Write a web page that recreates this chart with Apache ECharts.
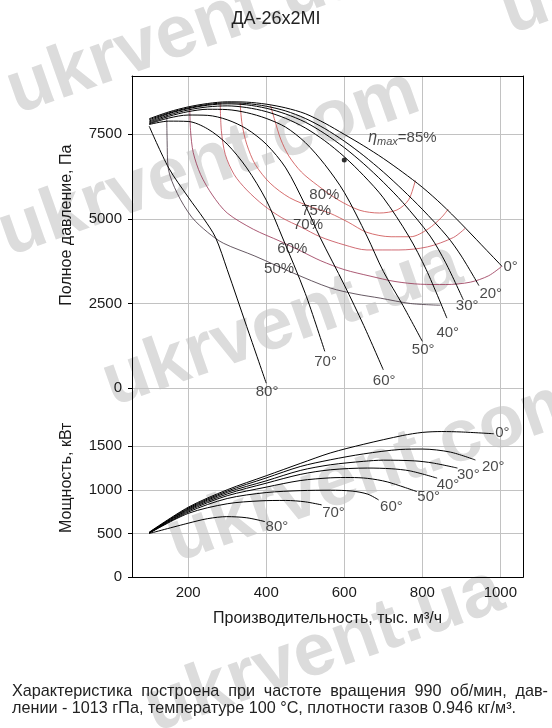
<!DOCTYPE html>
<html>
<head>
<meta charset="utf-8">
<script src="https://cdn.jsdelivr.net/npm/echarts@6/dist/echarts.min.js"></script>
<style>
  html, body { margin: 0; padding: 0; background: #fff; }
  #chart { width: 552px; height: 728px; }
</style>
</head>
<body>
<div id="chart"></div>
<script>
// --- data ---
const flowTicks = [200, 400, 600, 800, 1000];
const pressureTicks = [0, 2500, 5000, 7500];
const powerTicks = [0, 500, 1000, 1500];
const bladeAngles = ['0°', '20°', '30°', '40°', '50°', '60°', '70°', '80°'];

// full pressure, Pa, vs flow, thousand m3/h
const press0 = [[100,7950],[150,8150],[200,8300],[250,8400],[300,8450],[350,8440],[400,8380],[450,8270],[500,8100],[550,7820],[600,7490],[650,7150],[700,6780],[750,6370],[800,5930],[850,5420],[900,4850],[950,4250],[1004,3600]];
const press20 = [[100,7920],[150,8120],[200,8270],[250,8370],[300,8420],[350,8400],[400,8320],[450,8180],[500,7960],[550,7660],[600,7290],[650,6860],[700,6380],[750,5850],[800,5280],[863,4490],[900,3900],[945,3030]];
const press30 = [[100,7880],[150,8100],[200,8250],[250,8350],[300,8390],[350,8360],[400,8260],[450,8090],[500,7850],[550,7510],[600,7100],[650,6620],[700,6080],[750,5480],[820,4490],[860,3700],[905,2610]];
const press40 = [[100,7850],[150,8060],[200,8210],[250,8300],[300,8330],[350,8280],[400,8160],[450,7960],[500,7680],[550,7300],[600,6830],[650,6270],[700,5620],[765,4490],[810,3500],[863,2070]];
const press50 = [[100,7820],[150,8020],[200,8160],[250,8230],[300,8220],[350,8130],[400,7960],[450,7700],[500,7250],[550,6600],[600,5780],[658,4490],[700,3450],[750,2450],[800,1385]];
const press60 = [[100,7800],[150,7970],[200,8060],[250,8050],[300,7920],[350,7650],[400,7200],[450,6500],[500,5400],[538,4450],[600,3050],[650,1850],[700,545]];
const press70 = [[100,7780],[150,7880],[200,7870],[250,7650],[300,7200],[350,6500],[400,5550],[440,4490],[500,2800],[550,1090]];
const press80 = [[100,7730],[150,6500],[200,5640],[240,5000],[270,4450],[300,3500],[350,1820],[400,150]];

// shaft power, kW
const power0 = [[100,515],[200,800],[300,1000],[400,1160],[487,1300],[564,1420],[650,1520],[750,1620],[800,1655],[850,1665],[900,1660],[983,1640]];
const power20 = [[100,512],[200,790],[300,985],[400,1135],[487,1265],[564,1342],[650,1410],[743,1460],[800,1465],[872,1430],[936,1340]];
const power30 = [[100,510],[200,780],[300,970],[400,1102],[487,1220],[564,1285],[650,1325],[700,1338],[780,1330],[828,1305],[890,1248]];
const power40 = [[100,508],[200,770],[300,952],[400,1075],[487,1175],[564,1228],[659,1248],[720,1240],[769,1215],[838,1133]];
const power50 = [[100,507],[200,758],[300,932],[400,1030],[487,1105],[564,1136],[615,1140],[660,1130],[710,1090],[786,979]];
const power60 = [[100,505],[200,745],[300,900],[400,968],[487,990],[564,995],[620,985],[660,950],[688,884]];
const power70 = [[100,503],[200,730],[300,840],[384,873],[450,878],[500,862],[542,827]];
const power80 = [[100,500],[200,618],[250,670],[299,693],[350,680],[397,636]];

// efficiency contours
const effLevels = ['80%', '75%', '70%', '60%', '50%'];
const eff80 = [[411,8340],[422,7900],[437,7350],[458,6850],[490,6380],[531,5990],[584,5560],[640,5250],[690,5170],[735,5260],[765,5560],[782,6130]];
const eff75 = [[333,8420],[338,7800],[350,7200],[372,6600],[410,6050],[460,5620],[520,5330],[564,5160],[610,4900],[658,4600],[720,4470],[770,4470],[815,4700],[850,5050],[866,5280]];
const eff70 = [[282,8430],[285,7600],[295,6900],[318,6300],[350,5850],[393,5400],[440,5030],[490,4750],[538,4470],[600,4230],[658,4080],[740,4080],[813,4170],[880,4450],[910,4720]];
const eff60 = [[204,8290],[206,7600],[213,6950],[232,6300],[262,5700],[300,5170],[367,4690],[435,4340],[490,4040],[540,3760],[600,3500],[666,3310],[730,3150],[795,3070],[860,3060],[923,3130],[970,3320],[1004,3600]];
const eff50 = [[145,8120],[146,7300],[149,6480],[172,5750],[209,5050],[250,4600],[290,4280],[371,3900],[469,3400],[564,2960],[630,2780],[692,2660],[770,2500],[846,2450]];
const effLabelAt = [[549,5700],[528,5227],[507,4814],[467,4121],[433,3532]];
const etaMax = [600, 6730];
const etaLabelAt = [749, 7390];

const footer1 = 'Характеристика построена при частоте вращения 990 об/мин, дав-';
const footer2 = 'лении - 1013 гПа, температуре 100 °С, плотности газов 0.946 кг/м³.';

// --- layout ---
const font = '"Liberation Sans", Arial, Helvetica, sans-serif';
const ink = '#1a1a1a';
const gridGray = '#c2c2c2';
const pressShift = [[2,1],[1,9],[-7,7],[-10,15],[-10,9],[-10,12],[-10,11],[-10,9]];
const powerShift = [[2,0],[7,7],[0,7],[0,7],[1,6],[2,7],[1,8],[1,6]];
const effColors = ['#cc4a4a', '#cc4a4a', '#c44650', '#963050', '#40303c'];

const pressCurves = [press0, press20, press30, press40, press50, press60, press70, press80];
const powerCurves = [power0, power20, power30, power40, power50, power60, power70, power80];
const effCurves = [eff80, eff75, eff70, eff60, eff50];

function line(data, gi, color, width, z) {
  return {
    type: 'line', xAxisIndex: gi, yAxisIndex: gi * 2, data: data,
    symbol: 'none', smooth: 0.3, silent: true, z: z,
    lineStyle: { color: color, width: width }
  };
}

function endLabels(curves, gi, shifts) {
  return {
    type: 'scatter', xAxisIndex: gi, yAxisIndex: gi * 2, symbolSize: 1, silent: true, z: 6,
    itemStyle: { color: 'rgba(0,0,0,0)' },
    label: { show: true, formatter: p => p.name, color: ink, fontSize: 15, fontFamily: font, align: 'left', verticalAlign: 'middle' },
    data: curves.map((c, i) => ({ name: bladeAngles[i], value: c[c.length - 1], label: { position: shifts[i] } }))
  };
}

const series = [];
effCurves.forEach((c, i) => series.push(line(c, 0, effColors[i], 0.8, 2)));
pressCurves.forEach(c => series.push(line(c, 0, '#000', 1, 3)));
powerCurves.forEach(c => series.push(line(c, 1, '#000', 1, 3)));
series.push(endLabels(pressCurves, 0, pressShift));
series.push(endLabels(powerCurves, 1, powerShift));
series.push({
  type: 'scatter', xAxisIndex: 0, yAxisIndex: 0, symbolSize: 1, silent: true, z: 6,
  itemStyle: { color: 'rgba(0,0,0,0)' },
  label: { show: true, position: 'inside', formatter: p => p.name, color: ink, fontSize: 15, fontFamily: font },
  data: effLabelAt.map((p, i) => ({ name: effLevels[i], value: p }))
});
series.push({
  type: 'scatter', xAxisIndex: 0, yAxisIndex: 0, symbolSize: 5, silent: true, z: 6,
  itemStyle: { color: '#000' }, data: [etaMax]
});
series.push({
  type: 'scatter', xAxisIndex: 0, yAxisIndex: 0, symbolSize: 1, silent: true, z: 6,
  itemStyle: { color: 'rgba(0,0,0,0)' },
  label: {
    show: true, position: 'inside', fontFamily: font, color: ink,
    formatter: '{e|η}{s|max}{n|=85%}',
    rich: {
      e: { fontSize: 16, fontStyle: 'italic', fontFamily: font, color: ink, lineHeight: 18 },
      s: { fontSize: 11, fontStyle: 'italic', fontFamily: font, color: ink, lineHeight: 18, padding: [8, 0, 0, 0] },
      n: { fontSize: 15, fontFamily: font, color: ink, lineHeight: 18 }
    }
  },
  data: [etaLabelAt]
});

const axisBlack = { show: true, onZero: false, lineStyle: { color: '#000', width: 1 } };
const splitGray = { show: true, lineStyle: { color: gridGray, width: 1 } };
const tickText = { color: ink, fontSize: 15, fontFamily: font, formatter: v => String(v) };
const nameText = { color: ink, fontSize: 16, fontFamily: font };

// watermark rows
const watermarks = [
  ['ukrvent.ua', 22, 130], ['ukrvent.com', 14, 272], ['ukrvent.ua', 118, 422],
  ['ukrvent.com', 182, 578], ['ukrvent.ua', 160, 748], ['ukrvent.com', 516, 50]
];
const wmGraphics = watermarks.map(w => ({
  type: 'text', x: w[1], y: w[2], rotation: 0.34, z: -10, silent: true,
  style: { text: w[0], font: 'bold 74px ' + font, fill: '#dcdcdc', textAlign: 'left', textVerticalAlign: 'bottom' }
}));

// footer: first line justified to the full width, second line left
const footerFont = '16.2px ' + font;
const ctx = document.createElement('canvas').getContext('2d');
ctx.font = footerFont;
const words = footer1.split(' ');
const widths = words.map(w => ctx.measureText(w).width);
const spare = (548 - 12 - widths.reduce((a, b) => a + b, 0)) / (words.length - 1);
let wx = 12;
const footGraphics = words.map((w, i) => {
  const g = { type: 'text', x: wx, y: 684, silent: true, style: { text: w, font: footerFont, fill: '#222', textVerticalAlign: 'top' } };
  wx += widths[i] + spare;
  return g;
});
footGraphics.push({ type: 'text', x: 12, y: 701, silent: true, style: { text: footer2, font: footerFont, fill: '#222', textVerticalAlign: 'top' } });

const option = {
  animation: false,
  backgroundColor: '#fff',
  title: {
    text: 'ДА-26x2МІ', left: 'center', top: 5,
    textStyle: { fontSize: 18, fontWeight: 'normal', color: '#222', fontFamily: font }
  },
  grid: [
    { left: 132, right: 29, top: 76, bottom: 339.7 },
    { left: 132, right: 29, top: 388.3, bottom: 150.7 }
  ],
  xAxis: [
    {
      gridIndex: 0, type: 'value', position: 'top', min: 56, max: 1058,
      axisLine: axisBlack, axisTick: { show: false, customValues: flowTicks },
      axisLabel: { show: false, customValues: flowTicks }, splitLine: splitGray
    },
    {
      gridIndex: 1, type: 'value', position: 'bottom', min: 56, max: 1058,
      axisLine: axisBlack, axisTick: { show: false, customValues: flowTicks },
      axisLabel: Object.assign({ customValues: flowTicks, margin: 8 }, tickText), splitLine: splitGray,
      name: 'Производительность, тыс. м³/ч', nameLocation: 'middle', nameGap: 33,
      nameTextStyle: nameText
    }
  ],
  yAxis: [
    {
      gridIndex: 0, type: 'value', position: 'left', min: 0, max: 9211,
      axisLine: axisBlack,
      axisTick: { show: true, length: 4, customValues: pressureTicks, lineStyle: { color: '#000' } },
      axisLabel: Object.assign({ customValues: pressureTicks, margin: 10 }, tickText),
      splitLine: splitGray,
      name: 'Полное давление, Па', nameLocation: 'middle', nameGap: 57, nameRotate: 90,
      nameTextStyle: Object.assign({ padding: [0, 0, 0, 14] }, nameText)
    },
    {
      gridIndex: 0, type: 'value', position: 'right', min: 0, max: 9211,
      axisLine: axisBlack, axisTick: { show: false }, axisLabel: { show: false }, splitLine: { show: false }
    },
    {
      gridIndex: 1, type: 'value', position: 'left', min: 0, max: 2159,
      axisLine: axisBlack,
      axisTick: { show: true, length: 4, customValues: powerTicks, lineStyle: { color: '#000' } },
      axisLabel: Object.assign({ customValues: powerTicks, margin: 10 }, tickText),
      splitLine: { show: true, lineStyle: { color: [gridGray, gridGray, gridGray, gridGray, 'rgba(0,0,0,0)', 'rgba(0,0,0,0)'], width: 1 } },
      name: 'Мощность, кВт', nameLocation: 'middle', nameGap: 57, nameRotate: 90,
      nameTextStyle: Object.assign({ padding: [0, 0, 0, 10] }, nameText)
    },
    {
      gridIndex: 1, type: 'value', position: 'right', min: 0, max: 2159,
      axisLine: axisBlack, axisTick: { show: false }, axisLabel: { show: false }, splitLine: { show: false }
    }
  ],
  graphic: wmGraphics.concat(footGraphics),
  series: series
};

const chart = echarts.init(document.getElementById('chart'));
chart.setOption(option);
</script>
</body>
</html>
